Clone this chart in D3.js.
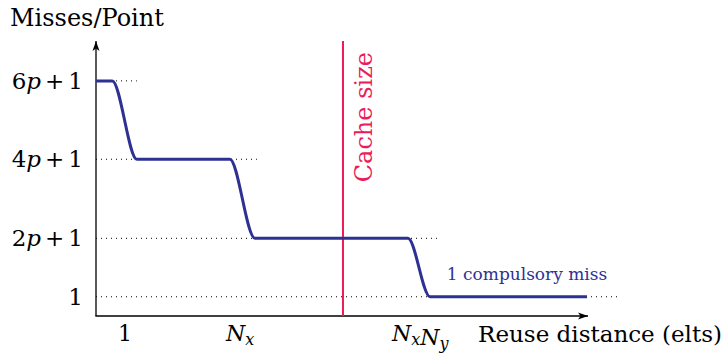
<!DOCTYPE html>
<html>
<head>
<meta charset="utf-8">
<script src="https://cdn.jsdelivr.net/npm/d3@7"></script>
<style>
  html, body { margin: 0; padding: 0; background: #fff; }
  svg { display: block; }
  text { font-family: "DejaVu Serif", "Liberation Serif", serif; }
</style>
</head>
<body>
<svg id="chart" width="727" height="356"></svg>
<script>
// ---- data ----
// step levels (arbitrary y units), from top to bottom
const levelNames = ["6p+1", "4p+1", "2p+1", "1"];
const levelValues = [3.42, 2.28, 1.13, 0.28];
// piecewise curve: x positions (reuse distance units) and levels
const curveX = [0, 0.33, 0.83, 2.72, 3.23, 6.34, 6.79, 9.98];
const curveY = [3.42, 3.42, 2.28, 2.28, 1.13, 1.13, 0.28, 0.28];
// dotted guide line extents per level
const guideEnds = [0.83, 3.27, 6.93, 10.59];
// x tick labels
const xTickNames = ["1", "Nx", "NxNy"];
const xTickValues = [0.59, 2.93, 6.59];
const cacheSize = 5.02;

// ---- layout ----
const svg = d3.select("#chart");
const x = d3.scaleLinear().domain([0, 10]).range([96, 588]);
const y = d3.scaleLinear().domain([0, 4]).range([316, 41]);
const blue = "#2e3192";
const pink = "#ec1b5a";

// dotted guides
svg.append("g").selectAll("line").data(levelValues).join("line")
  .attr("x1", x(0)).attr("x2", (d, i) => x(guideEnds[i]))
  .attr("y1", d => y(d)).attr("y2", d => y(d))
  .attr("stroke", "#000").attr("stroke-width", 1)
  .attr("stroke-dasharray", "1,4");

// axes lines with arrows
const defs = svg.append("defs");
defs.append("marker").attr("id", "arrow").attr("viewBox", "0 0 10 10")
  .attr("refX", 10).attr("refY", 5).attr("markerWidth", 10).attr("markerHeight", 10)
  .attr("markerUnits", "userSpaceOnUse").attr("orient", "auto")
  .append("path").attr("d", "M0,1.5 L10,5 L0,8.5 L2.5,5 Z").attr("fill", "#000");

svg.append("line").attr("x1", x(0)).attr("y1", y(0)).attr("x2", x(0)).attr("y2", y(4))
  .attr("stroke", "#000").attr("stroke-width", 1.3).attr("marker-end", "url(#arrow)");
svg.append("line").attr("x1", x(0) - 0.6).attr("y1", y(0)).attr("x2", x(10)).attr("y2", y(0))
  .attr("stroke", "#000").attr("stroke-width", 1.3).attr("marker-end", "url(#arrow)");

// cache size line
svg.append("line").attr("x1", x(cacheSize)).attr("x2", x(cacheSize))
  .attr("y1", y(0)).attr("y2", y(4)).attr("stroke", pink).attr("stroke-width", 2);
svg.append("text")
  .attr("transform", `translate(${x(cacheSize) + 29},${y(4) + 11}) rotate(-90)`)
  .attr("text-anchor", "end").attr("font-size", 24).attr("fill", pink)
  .text("Cache size");

// step curve
const pts = curveX.map((d, i) => [d, curveY[i]]);
svg.append("path").datum(pts)
  .attr("d", d3.line().x(d => x(d[0])).y(d => y(d[1])).curve(d3.curveMonotoneX))
  .attr("fill", "none").attr("stroke", blue).attr("stroke-width", 3)
  .attr("stroke-linejoin", "round");

// annotation
svg.append("text").attr("x", x(7.13)).attr("y", y(levelValues[3]) - 17)
  .attr("font-size", 17).attr("fill", blue).text("1 compulsory miss");

// y labels
function mathLabel(sel, name) {
  const m = name.match(/^(\d)(p)\+(\d)$/);
  if (m) {
    sel.append("tspan").text(m[1]);
    sel.append("tspan").attr("font-style", "italic").text(m[2]);
    sel.append("tspan").attr("dx", 4).text("+");
    sel.append("tspan").attr("dx", 4).text(m[3]);
  } else {
    sel.text(name);
  }
}
svg.append("g").selectAll("text").data(levelValues).join("text")
  .attr("x", 83).attr("y", d => y(d) + 8)
  .attr("text-anchor", "end").attr("font-size", 23)
  .each(function (d, i) { mathLabel(d3.select(this), levelNames[i]); });

// x labels
svg.append("g").selectAll("text").data(xTickValues).join("text")
  .attr("x", d => x(d)).attr("y", 341).attr("text-anchor", "middle").attr("font-size", 22)
  .each(function (d, i) {
    const t = d3.select(this);
    const name = xTickNames[i];
    if (name === "1") { t.text("1"); return; }
    const parts = name.match(/N[a-z]/g);
    parts.forEach(p => {
      t.append("tspan").attr("font-style", "italic").text("N");
      t.append("tspan").attr("font-style", "italic").attr("font-size", 16).attr("dy", 4).text(p[1]);
      t.append("tspan").attr("dy", -4).text("");
    });
  });

// axis titles
svg.append("text").attr("x", 10).attr("y", 26).attr("font-size", 24).text("Misses/Point");
svg.append("text").attr("x", 722).attr("y", 342).attr("text-anchor", "end")
  .attr("font-size", 23).text("Reuse distance (elts)");
</script>
</body>
</html>
